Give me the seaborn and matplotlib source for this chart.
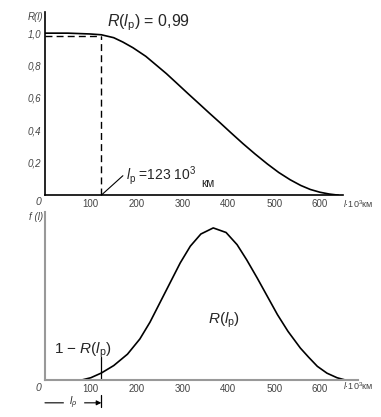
import numpy as np
import pandas as pd
import matplotlib
matplotlib.use("Agg")
import matplotlib.pyplot as plt
import seaborn as sns

# reliability R(l)
l_R = [0, 50, 98, 123, 150, 170, 192, 220, 244, 265, 288, 312, 338, 358, 382,
       405, 432, 458, 485, 510, 535, 558, 579, 600, 620, 640]
R_vals = [1.0, 1.0, 0.995, 0.99, 0.972, 0.945, 0.91, 0.857, 0.80, 0.75, 0.69,
          0.627, 0.56, 0.508, 0.447, 0.387, 0.318, 0.255, 0.193, 0.14, 0.095,
          0.06, 0.035, 0.018, 0.007, 0.0]

# density f(l) (peak scaled to 1)
l_f = [80, 100, 123, 150, 180, 207, 229, 251, 273, 295, 317, 340, 367, 395, 419,
       440, 463, 485, 507, 530, 557, 575, 594, 615, 637, 655]
f_vals = [0.0, 0.015, 0.046, 0.095, 0.17, 0.27, 0.38, 0.51, 0.64, 0.77, 0.88,
          0.96, 1.0, 0.97, 0.89, 0.79, 0.67, 0.55, 0.43, 0.32, 0.21, 0.15, 0.09,
          0.045, 0.015, 0.0]

l_p = 123
R_p = 0.99
x_ticks = [100, 200, 300, 400, 500, 600]
y_ticks = [0.2, 0.4, 0.6, 0.8, 1.0]
y_labels = ["0,2", "0,4", "0,6", "0,8", "1,0"]

sns.set_style("white")
plt.rcParams["font.family"] = ["Liberation Sans", "DejaVu Sans"]
plt.rcParams["mathtext.fontset"] = "custom"
plt.rcParams["mathtext.rm"] = "Liberation Sans"
plt.rcParams["mathtext.it"] = "Liberation Sans:italic"

df_R = pd.DataFrame({"l": l_R, "R": R_vals})
df_f = pd.DataFrame({"l": l_f, "f": f_vals})

fig = plt.figure(figsize=(3.81, 4.17), dpi=100)
ax1 = fig.add_axes([0.118, 0.532, 0.782, 0.439])
ax2 = fig.add_axes([0.118, 0.0887, 0.822, 0.403])

gray = "#444444"

# ---- upper panel: R(l)
sns.lineplot(data=df_R, x="l", y="R", ax=ax1, color="black", lw=1.2)
ax1.plot([0, l_p], [0.98, 0.98], color="black", ls=(0, (5, 3)), lw=1)
ax1.plot([l_p, l_p], [0, 0.98], color="black", ls=(0, (5, 3)), lw=1)
ax1.set_xlim(0, 650)
ax1.set_ylim(0, 1.13)
ax1.set_xticks(x_ticks)
ax1.set_xticks(np.arange(50, 700, 100), minor=True)
ax1.set_yticks(y_ticks)
ax1.set_yticklabels(y_labels, fontstyle="italic", color=gray)
ax1.set_yticks(np.arange(0.1, 1.1, 0.2), minor=True)
ax1.tick_params(axis="both", which="both", direction="in", length=3, labelsize=7,
                colors=gray, pad=3)
ax1.set_xlabel("")
ax1.set_ylabel("")
for s in ["top", "right"]:
    ax1.spines[s].set_visible(False)
for s in ["left", "bottom"]:
    ax1.spines[s].set_color("black")
    ax1.spines[s].set_linewidth(1.2)
ax1.text(-8, -0.01, "0", ha="right", va="top", fontsize=7.5, fontstyle="italic",
         color=gray)
ax1.text(-4, 1.13, "R(l)", ha="right", va="top", fontsize=7, fontstyle="italic",
         color=gray)
ax1.text(1.0, -0.015, r"$l$·10$^3$км", transform=ax1.transAxes, ha="left",
         va="top", fontsize=6.5, color=gray)
ax1.text(135, 1.0, r"$R(l_{\mathrm{p}})$ = 0,99", fontsize=11.5, va="bottom")
ax1.annotate("", xy=(l_p, 0), xytext=(170, 0.12),
             arrowprops=dict(arrowstyle="-", color="black", lw=0.8,
                             shrinkA=0, shrinkB=0))
ax1.text(176, 0.12, r"$l_{\mathrm{p}}$ =123 10$^3$", fontsize=10, va="center")
ax1.text(340, 0.07, "км", fontsize=8.5, va="center")

# ---- lower panel: f(l)
sns.lineplot(data=df_f, x="l", y="f", ax=ax2, color="black", lw=1.2)
ax2.plot([l_p, l_p], [0, 0.15], color="black", lw=0.9)
ax2.set_xlim(0, 683)
ax2.set_ylim(0, 1.105)
ax2.set_xticks(x_ticks)
ax2.set_xticks(np.arange(50, 700, 100), minor=True)
ax2.set_yticks([])
ax2.tick_params(axis="x", which="both", direction="in", length=3, labelsize=7,
                colors=gray, pad=3)
ax2.set_xlabel("")
ax2.set_ylabel("")
for s in ["top", "right"]:
    ax2.spines[s].set_visible(False)
for s in ["left", "bottom"]:
    ax2.spines[s].set_color("#999999")
    ax2.spines[s].set_linewidth(1.5)
ax2.text(-8, -0.02, "0", ha="right", va="top", fontsize=7.5, fontstyle="italic",
         color=gray)
ax2.text(-4, 1.105, "f (l)", ha="right", va="top", fontsize=7, fontstyle="italic",
         color=gray)
ax2.text(650, 0.0, r"$l$·10$^3$км", ha="left", va="top", fontsize=6.5,
         color=gray)
ax2.text(20, 0.13, r"1 $-$ $R(l_{\mathrm{p}})$", fontsize=11, va="bottom")
ax2.text(356, 0.33, r"$R(l_{\mathrm{p}})$", fontsize=11, va="bottom")

# l_p arrow below the axis
ax2.annotate("", xy=(l_p, -0.15), xytext=(0, -0.15), annotation_clip=False,
             arrowprops=dict(arrowstyle="-|>", color="black", lw=0.8,
                             mutation_scale=7, shrinkA=0, shrinkB=0))
ax2.plot([l_p, l_p], [-0.1, -0.18], color="black", lw=0.9, clip_on=False)
ax2.text(l_p / 2, -0.15, r"$l_{\rho}$", fontsize=7.5, ha="center", va="center",
         backgroundcolor="white")

fig.savefig("out.png", dpi=100)
